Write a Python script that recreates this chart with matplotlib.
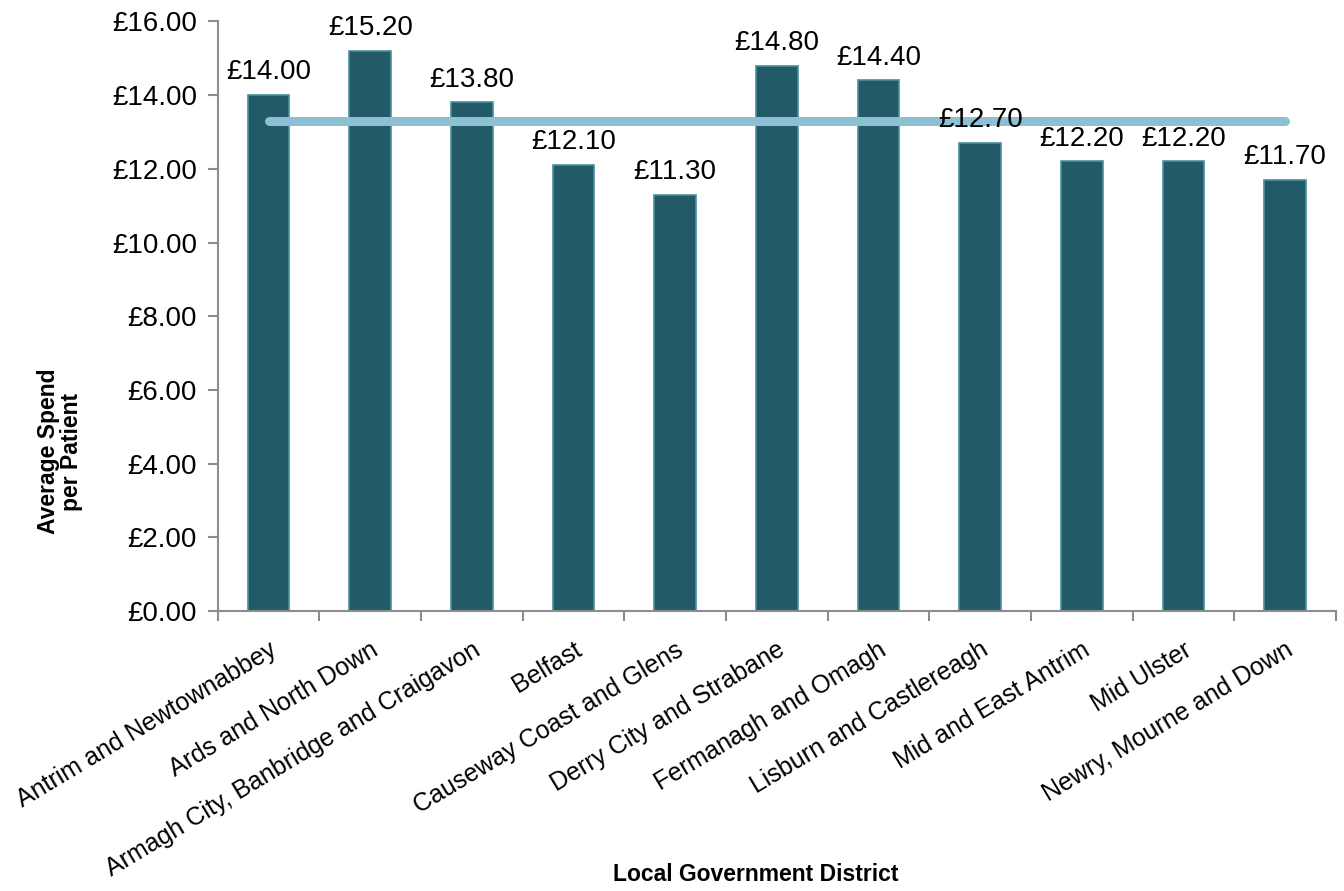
#!/usr/bin/env python

import matplotlib
matplotlib.use('Agg')
import matplotlib.pyplot as plt
import matplotlib.transforms as mtransforms
from matplotlib.ticker import FuncFormatter
import numpy as np

districts = [
    'Antrim and Newtownabbey', 'Ards and North Down',
    'Armagh City, Banbridge and Craigavon', 'Belfast',
    'Causeway Coast and Glens', 'Derry City and Strabane',
    'Fermanagh and Omagh', 'Lisburn and Castlereagh',
    'Mid and East Antrim', 'Mid Ulster', 'Newry, Mourne and Down',
]
spend = [14.0, 15.2, 13.8, 12.1, 11.3, 14.8, 14.4, 12.7, 12.2, 12.2, 11.7]
average = 13.3


def main() -> None:
    plt.rcParams['font.family'] = ['Liberation Sans', 'DejaVu Sans']

    fig = plt.figure(figsize=(13.44, 8.91), dpi=100)
    ax = fig.add_axes([0.162, 0.314, 0.832, 0.662])

    x = np.arange(len(districts))
    ax.bar(x, spend, width=0.41, color='#235A68', edgecolor='#4A90A2',
           linewidth=1.2, zorder=2)
    ax.plot([x[0], x[-1]], [average, average], color='#8DC0D3', lw=6.5,
            solid_capstyle='round', zorder=3)

    for xi, v in zip(x, spend):
        ax.annotate(f'£{v:.2f}', (xi, v), xytext=(0, 7), textcoords='offset points',
                    ha='center', va='bottom', fontsize=20, zorder=4)

    ax.set_xlim(-0.5, len(districts) - 0.5)
    ax.set_ylim(0, 16)
    ax.set_yticks(np.arange(0, 17, 2))
    ax.yaxis.set_major_formatter(FuncFormatter(lambda v, _: f'£{v:.2f}'))

    ax.set_xticks(x)
    ax.set_xticklabels(districts, rotation=31, ha='right', rotation_mode='anchor',
                       fontsize=18)
    shift = mtransforms.ScaledTranslation(-7 / 100, 0, fig.dpi_scale_trans)
    for lbl in ax.get_xticklabels():
        lbl.set_transform(lbl.get_transform() + shift)
    ax.set_xticks(np.arange(-0.5, len(districts), 1), minor=True)
    ax.tick_params(axis='x', which='major', length=0, pad=19)
    ax.tick_params(axis='x', which='minor', length=7, width=1.5, color='#8C8C8C')
    ax.tick_params(axis='y', length=7, width=1.5, color='#8C8C8C', labelsize=20, pad=8)

    for side in ('top', 'right'):
        ax.spines[side].set_visible(False)
    for side in ('left', 'bottom'):
        ax.spines[side].set_color('#8C8C8C')
        ax.spines[side].set_linewidth(1.5)

    fig.text(0.045, 0.493, 'Average Spend\nper Patient', rotation=90, ha='center',
             va='center', fontsize=16.5, fontweight='bold', linespacing=1.0)
    fig.text(0.562, 0.006, 'Local Government District', ha='center', va='bottom',
             fontsize=16.5, fontweight='bold')

    fig.savefig('out.png', dpi=100)


if __name__ == '__main__':
    main()
